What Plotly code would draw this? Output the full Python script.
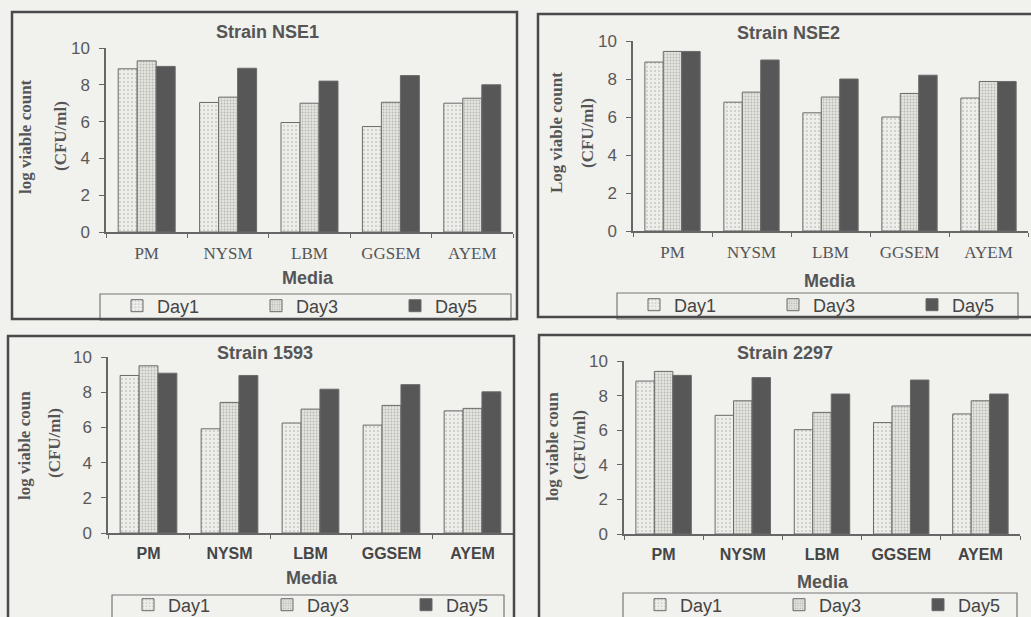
import plotly.graph_objects as go

W, H = 1031, 617

media = ["PM", "NYSM", "LBM", "GGSEM", "AYEM"]
days = ["Day1", "Day3", "Day5"]

nse1_day1 = [8.87, 7.04, 5.95, 5.73, 7.00]
nse1_day3 = [9.30, 7.33, 7.00, 7.05, 7.27]
nse1_day5 = [9.00, 8.90, 8.20, 8.50, 8.00]

nse2_day1 = [8.89, 6.78, 6.22, 6.00, 7.00]
nse2_day3 = [9.45, 7.31, 7.05, 7.24, 7.87]
nse2_day5 = [9.45, 9.00, 8.00, 8.20, 7.87]

s1593_day1 = [8.95, 5.92, 6.25, 6.13, 6.94]
s1593_day3 = [9.50, 7.42, 7.04, 7.25, 7.08]
s1593_day5 = [9.08, 8.95, 8.17, 8.43, 8.02]

s2297_day1 = [8.84, 6.86, 6.03, 6.44, 6.94]
s2297_day3 = [9.40, 7.70, 7.03, 7.40, 7.70]
s2297_day5 = [9.17, 9.04, 8.09, 8.90, 8.09]

titles = ["Strain NSE1", "Strain NSE2", "Strain 1593", "Strain 2297"]
ylab1 = ["log viable count", "Log viable count", "log viable coun", "log viable coun"]
ylab2 = ["(CFU/ml)", "(CFU/ml)", "(CFU/ml)", "(CFU/ml)"]
yticks = [0, 2, 4, 6, 8, 10]

panel_data = [
    [nse1_day1, nse1_day3, nse1_day5],
    [nse2_day1, nse2_day3, nse2_day5],
    [s1593_day1, s1593_day3, s1593_day5],
    [s2297_day1, s2297_day3, s2297_day5],
]

BG = "#f1f1ee"


def px(v):
    return v / W


def py(v):
    return 1 - v / H


# layout geometry (pixels)
axes_px = [
    # x0, x1, y_bottom(0), y_top(10)
    (106, 513, 232, 48),
    (633, 1028, 231, 41),
    (108, 513, 533, 357),
    (624, 1020, 534, 361),
]
boxes_px = [(12, 12, 517, 319), (538, 14, 1040, 317), (8, 336, 514, 630), (539, 335, 1040, 630)]
legbox_px = [(100, 294, 511, 320), (617, 293, 1018, 319), (112, 595, 504, 625), (623, 593, 1017, 625)]
title_px = [(267, 32), (788, 33), (265, 353), (785, 353)]
media_px = [(308, 278), (830, 281), (312, 578), (823, 582)]
ylab1_px = [(26, 137), (556, 133), (24, 446), (552, 447)]
ylab2_px = [(60, 136), (587, 133), (54, 443), (580, 445)]
leg_px = [(117, 306), (634, 305), (128, 605), (640, 605)]

day_styles = [
    dict(color="#ededea", pattern=dict(shape=".", fgcolor="#a0a09c", bgcolor="#ededea", size=4, solidity=0.2)),
    dict(color="#e2e2de", pattern=dict(shape=".", fgcolor="#8a8a86", bgcolor="#e4e4e0", size=3, solidity=0.3)),
    dict(color="#575757"),
]

fig = go.Figure()
layout = dict(
    width=W, height=H, margin=dict(l=0, r=0, t=0, b=0, autoexpand=False),
    paper_bgcolor=BG, plot_bgcolor=BG,
    barmode="group", bargap=0.3, bargroupgap=0.0,
    showlegend=True,
)
annotations = []
shapes = []

for i in range(4):
    k = "" if i == 0 else str(i + 1)
    x0, x1, yb, yt = axes_px[i]
    serif_top = i < 2
    tickfont = dict(family="Liberation Serif", size=17, color="#555") if serif_top else \
        dict(family="Liberation Sans", size=16, color="#454545", weight="bold")
    layout["xaxis" + k] = dict(
        domain=[px(x0), px(x1)], anchor="y" + k, type="category",
        showline=True, linecolor="#666", linewidth=1.5,
        ticks="outside", tickson="boundaries", ticklen=4, tickcolor="#666",
        tickfont=tickfont, ticklabelstandoff=5, showgrid=False, zeroline=False,
        automargin=False,
    )
    layout["yaxis" + k] = dict(
        domain=[py(yb), py(yt)], anchor="x" + k, range=[0, 10],
        tickvals=yticks, showline=True, linecolor="#666", linewidth=1.5,
        ticks="outside", ticklen=5, tickcolor="#666",
        tickfont=dict(family="Liberation Sans", size=17, color="#595959"),
        ticklabelstandoff=6, showgrid=False, zeroline=False, automargin=False,
    )
    lname = "legend" + k
    lx, ly = leg_px[i]
    layout[lname] = dict(
        x=px(lx), y=py(ly), xanchor="left", yanchor="middle",
        orientation="h", bgcolor="rgba(0,0,0,0)", borderwidth=0,
        entrywidth=94, entrywidthmode="pixels",
        font=dict(family="Liberation Sans", size=18, color="#454545"),
    )
    for d in range(3):
        fig.add_trace(go.Bar(
            x=media, y=panel_data[i][d], name=days[d],
            xaxis="x" + k, yaxis="y" + k, legend=lname,
            marker=dict(line=dict(color="#6a6a6a", width=1), **day_styles[d]),
        ))
    bx0, by0, bx1, by1 = boxes_px[i]
    shapes.append(dict(type="rect", xref="paper", yref="paper",
                       x0=px(bx0), x1=px(bx1), y0=py(by1), y1=py(by0),
                       line=dict(color="#4a4a4a", width=2.5), layer="above"))
    lbx0, lby0, lbx1, lby1 = legbox_px[i]
    shapes.append(dict(type="rect", xref="paper", yref="paper",
                       x0=px(lbx0), x1=px(lbx1), y0=py(lby1), y1=py(lby0),
                       line=dict(color="#777", width=1.2), layer="below"))
    tx, ty = title_px[i]
    annotations.append(dict(text=titles[i], x=px(tx), y=py(ty), xref="paper", yref="paper",
                            showarrow=False, xanchor="center", yanchor="middle",
                            font=dict(family="Liberation Sans", size=18, color="#555", weight="bold")))
    mx, my = media_px[i]
    annotations.append(dict(text="Media", x=px(mx), y=py(my), xref="paper", yref="paper",
                            showarrow=False, xanchor="center", yanchor="middle",
                            font=dict(family="Liberation Sans", size=18, color="#555", weight="bold")))
    for txt, (ax_, ay_) in ((ylab1[i], ylab1_px[i]), (ylab2[i], ylab2_px[i])):
        annotations.append(dict(text=txt, x=px(ax_), y=py(ay_), xref="paper", yref="paper",
                                showarrow=False, textangle=-90, xanchor="center", yanchor="middle",
                                font=dict(family="Liberation Serif", size=17, color="#555", weight="bold")))

layout["annotations"] = annotations
layout["shapes"] = shapes
fig.update_layout(**layout)
fig.write_html("out.html")
